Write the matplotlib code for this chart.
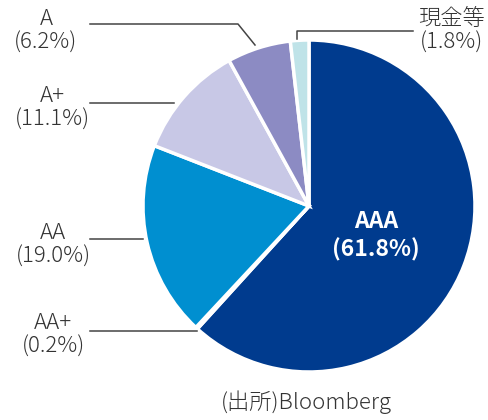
import matplotlib
matplotlib.use("Agg")
import matplotlib.pyplot as plt

plt.rcParams['font.family'] = ['Noto Sans CJK JP', 'DejaVu Sans']

# data
labels = ["AAA", "AA+", "AA", "A+", "A", "現金等"]
shares = [61.8, 0.2, 19.0, 11.1, 6.2, 1.8]
colors = ["#003b8e", "#1a5fb0", "#008fd0", "#c8c8e6", "#8c8bc3", "#bfe3e8"]
source = "(出所)Bloomberg"

W, H = 488, 420
TXT = "#333333"
LINE = "#444444"

fig = plt.figure(figsize=(W / 100, H / 100), dpi=100)
ax = fig.add_axes([0, 0, 1, 1])

# pie centred in pixel coords (y measured from the top of the picture)
cx, cy, r = 309, 206, 166
ax.pie(shares, colors=colors, startangle=90, counterclock=False,
       center=(cx, H - cy), radius=r,
       wedgeprops=dict(edgecolor="white", linewidth=2.5))
ax.set_xlim(0, W)
ax.set_ylim(0, H)
ax.set_aspect("equal")
ax.axis("off")


def y(v):
    return H - v


def lbl(i):
    return "{}\n({:.1f}%)".format(labels[i], shares[i])


# big label inside AAA
ax.text(376, y(236), lbl(0), color="white", fontsize=16.5, fontweight="bold",
        ha="center", va="center", linespacing=1.25)

# outside labels: (index, x, y)
outside = [(1, 53, 335), (2, 53, 245), (3, 52, 108), (4, 46, 31), (5, 451, 31)]
for i, tx, ty in outside:
    ax.text(tx, y(ty), lbl(i), color=TXT, fontsize=16, ha="center",
            va="center", linespacing=1.1, fontweight="light")

# leader lines
leaders = [
    [(90, 331), (197, 331)],
    [(90, 239), (143, 239)],
    [(90, 103), (174, 103)],
    [(90, 24), (238, 24), (255, 45)],
    [(297, 39), (297, 31), (413, 31)],
]
for pts in leaders:
    ax.plot([p[0] for p in pts], [y(p[1]) for p in pts], color=LINE, lw=1.1)

ax.text(306, y(402), source, color=TXT, fontsize=16, ha="center", va="center",
        fontweight="light")

fig.savefig("out.png", dpi=100)
